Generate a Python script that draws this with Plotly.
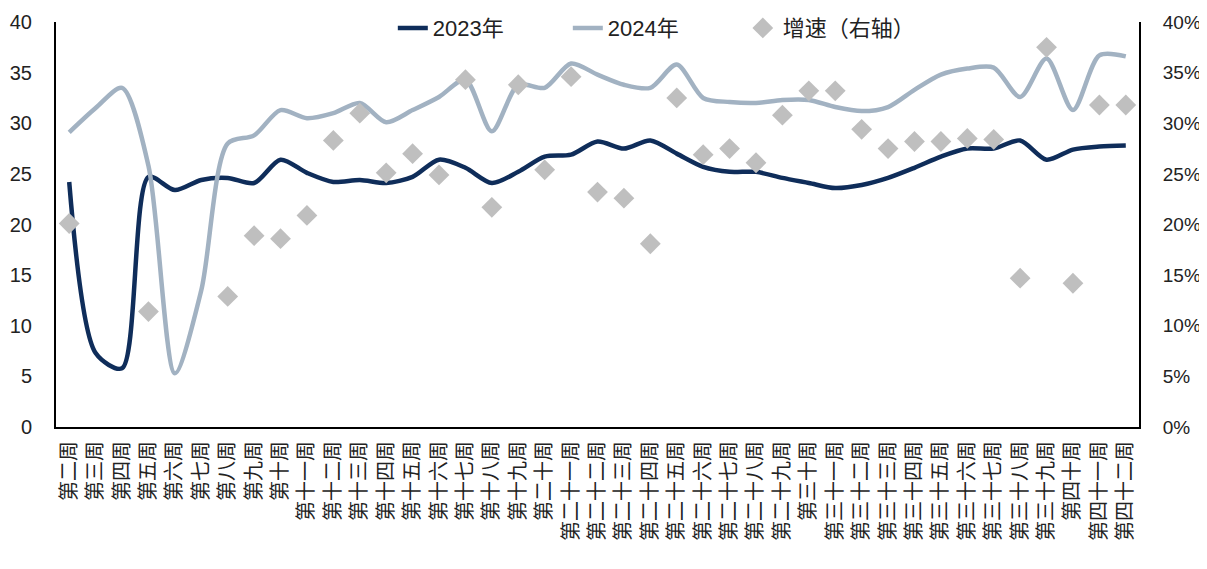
import plotly.graph_objects as go

weeks = ["第二周", "第三周", "第四周", "第五周", "第六周", "第七周", "第八周", "第九周", "第十周",
         "第十一周", "第十二周", "第十三周", "第十四周", "第十五周", "第十六周", "第十七周", "第十八周",
         "第十九周", "第二十周", "第二十一周", "第二十二周", "第二十三周", "第二十四周", "第二十五周",
         "第二十六周", "第二十七周", "第二十八周", "第二十九周", "第三十周", "第三十一周", "第三十二周",
         "第三十三周", "第三十四周", "第三十五周", "第三十六周", "第三十七周", "第三十八周", "第三十九周",
         "第四十周", "第四十一周", "第四十二周"]

y2023 = [24.2, 7.3, 5.8, 24.7, 23.4, 24.4, 24.6, 24.1, 26.4, 25.1, 24.2, 24.4, 24.1, 24.7,
         26.4, 25.6, 24.1, 25.2, 26.7, 26.9, 28.2, 27.5, 28.3, 27.0, 25.7, 25.2, 25.2, 24.6,
         24.1, 23.6, 23.9, 24.6, 25.6, 26.7, 27.5, 27.5, 28.3, 26.4, 27.4, 27.7, 27.8]

y2024 = [29.1, 31.5, 33.5, 25.8, 5.3, 13.5, 28.0, 28.8, 31.3, 30.5, 31.0, 32.0, 30.1, 31.3,
         32.6, 34.3, 29.2, 33.8, 33.5, 35.9, 34.8, 33.8, 33.5, 35.8, 32.5, 32.1, 32.0, 32.3,
         32.3, 31.6, 31.2, 31.6, 33.3, 34.8, 35.4, 35.5, 32.6, 36.4, 31.3, 36.7, 36.6]

growth = [0.201, None, None, 0.114, None, None, 0.129, 0.189, 0.186, 0.209, 0.283, 0.310,
          0.251, 0.270, 0.249, 0.343, 0.217, 0.338, 0.254, 0.346, 0.232, 0.226, 0.181, 0.325,
          0.269, 0.275, 0.261, 0.308, 0.332, 0.332, 0.294, 0.275, 0.282, 0.282, 0.285, 0.284,
          0.147, 0.375, 0.142, 0.318, 0.318]

C2023 = "#0f2d5a"
C2024 = "#a2b2c2"
CGR = "#bfbfbf"
TXT = "#222222"

fig = go.Figure()
fig.add_trace(go.Scatter(x=weeks, y=y2023, name="2023年", mode="lines",
                         line=dict(color=C2023, width=4.5, shape="spline", smoothing=0.8)))
fig.add_trace(go.Scatter(x=weeks, y=y2024, name="2024年", mode="lines",
                         line=dict(color=C2024, width=4.5, shape="spline", smoothing=0.8)))
fig.add_trace(go.Scatter(x=weeks, y=growth, name="增速（右轴）", mode="markers", yaxis="y2",
                         marker=dict(symbol="diamond", size=16, color=CGR)))

fig.update_layout(
    width=1199, height=561,
    margin=dict(l=48, r=68, t=14, b=142, autoexpand=False),
    plot_bgcolor="white", paper_bgcolor="white",
    font=dict(family="Liberation Sans, Arial, Noto Sans CJK SC", size=19, color=TXT),
    showlegend=True,
    legend=dict(orientation="h", x=0.311, xanchor="left", y=0.985, yanchor="middle",
                font=dict(size=22, color=TXT, family="Liberation Sans, Noto Sans CJK SC"),
                entrywidth=130, entrywidthmode="pixels",
                bgcolor="rgba(0,0,0,0)"),
    xaxis=dict(type="category", range=[-0.5, len(weeks) - 0.5], showgrid=False, showline=True,
               linecolor="black", linewidth=2,
               ticks="", tickangle=-90, ticklabelstandoff=4, automargin=False,
               tickfont=dict(family="Noto Sans CJK SC", size=20, color=TXT),
               mirror=False),
    yaxis=dict(range=[0, 40], dtick=5, showgrid=False, showline=True, linecolor="black",
               linewidth=2, ticks="", zeroline=False, ticklabelstandoff=18, automargin=False,
               tickfont=dict(size=20, color=TXT)),
    yaxis2=dict(range=[0, 0.4], dtick=0.05, tickformat=".0%", overlaying="y", side="right",
                showgrid=False, showline=True, linecolor="black", linewidth=2, ticks="",
                zeroline=False, ticklabelstandoff=18, automargin=False,
                tickfont=dict(size=19, color=TXT)),
)

fig.write_html("out.html")
